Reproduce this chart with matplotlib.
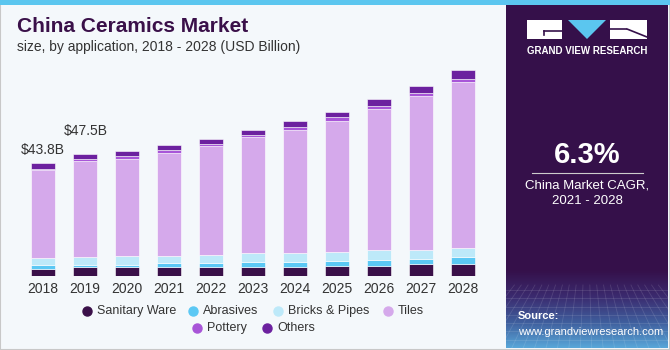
import numpy as np
import matplotlib.pyplot as plt
from matplotlib.patches import Rectangle, Polygon
from matplotlib.lines import Line2D
from matplotlib.colors import LinearSegmentedColormap

plt.rcParams['font.family'] = ['Liberation Sans', 'DejaVu Sans']

years = ['2018', '2019', '2020', '2021', '2022', '2023', '2024', '2025', '2026', '2027', '2028']
sanitary = [2.8, 3.4, 3.4, 3.4, 3.6, 3.6, 3.6, 4.0, 4.0, 4.5, 4.5]
abrasives = [1.6, 1.0, 1.0, 1.5, 1.3, 1.8, 1.8, 1.8, 2.2, 2.3, 2.7]
bricks = [2.5, 2.9, 3.4, 2.9, 3.1, 3.4, 3.4, 3.4, 3.8, 3.5, 3.6]
tiles = [34.4, 37.6, 37.6, 40.2, 42.5, 45.1, 48.0, 51.2, 55.1, 59.7, 64.6]
pottery = [0.5, 0.6, 1.3, 1.0, 0.8, 1.0, 1.0, 1.5, 1.0, 1.3, 1.3]
others = [2.0, 2.0, 2.1, 1.8, 2.1, 2.1, 2.4, 2.1, 2.8, 2.6, 3.4]
series_names = ['Sanitary Ware', 'Abrasives', 'Bricks & Pipes', 'Tiles', 'Pottery', 'Others']
colors = ['#3a1049', '#5bc8f4', '#bde9f9', '#d5a9eb', '#a855d8', '#6c219f']
labels = {0: '$43.8B', 1: '$47.5B'}

W, H = 670, 350
bg = '#f4f8fb'
fig = plt.figure(figsize=(6.7, 3.5), dpi=100, facecolor=bg)

def fx(px):
    return px / W

def fy(py):
    return 1 - py / H

# border + top strip
fig.patches.append(Rectangle((0, 0), 1, 1, transform=fig.transFigure, fill=False,
                             edgecolor='#c8c8c8', lw=1.5))
fig.patches.append(Rectangle((0, fy(5)), 1, 5 / H, transform=fig.transFigure,
                             color='#5bc6ef', lw=0))

# titles
fig.text(fx(17), fy(27), 'China Ceramics Market', fontsize=15, fontweight='bold',
         color='#3a1049', va='center')
fig.text(fx(17), fy(47), 'size, by application, 2018 - 2028 (USD Billion)', fontsize=10,
         color='#333333', va='center')

# bar chart
left, right = 21.7, 483.7
base, top = 276, 276 - 90 * 2.57
ax = fig.add_axes([fx(left), fy(base), (right - left) / W, (base - top) / H])
ax.set_facecolor('none')
x = np.arange(len(years))
data = [sanitary, abrasives, bricks, tiles, pottery, others]
bottom = np.zeros(len(years))
for vals, c in zip(data, colors):
    ax.bar(x, vals, 0.57, bottom=bottom, color=c, edgecolor='#ffffff', linewidth=0.4)
    bottom += np.array(vals)
lab_off = {0: (0, 2.5), 1: (0.03, 6.3)}
for i, t in labels.items():
    dx, dy = lab_off[i]
    ax.text(x[i] + dx, bottom[i] + dy, t, ha='center', va='bottom', fontsize=10, color='#333333')
ax.set_xlim(-0.5, len(years) - 0.5)
ax.set_ylim(0, 90)
ax.set_xticks(x)
ax.set_xticklabels(years, fontsize=10, color='#333333')
ax.tick_params(length=0, pad=4)
ax.set_yticks([])
for s in ax.spines.values():
    s.set_visible(False)

# legend drawn by hand
leg_rows = [(311, [87, 193, 278, 388]), (328, [197, 267])]
k = 0
for yy, xs in leg_rows:
    for xx in xs:
        fig.add_artist(Line2D([fx(xx)], [fy(yy)], marker='o', markersize=6.5, color=colors[k],
                              lw=0, transform=fig.transFigure))
        fig.text(fx(xx + 10), fy(yy), series_names[k], fontsize=9, color='#333333', va='center')
        k += 1

# right panel
pan = fig.add_axes([fx(506), fy(348), 162 / W, 343 / H])
pan.axis('off')
pan.add_patch(Rectangle((0, 0), 162, 343, color='#35104a', lw=0))
cmap = LinearSegmentedColormap.from_list('g', ['#35104a', '#3b2a6e', '#3f5d9c', '#58a6d8'])
grad = np.linspace(0, 1, 100).reshape(-1, 1)
pan.imshow(grad, extent=(0, 162, 343, 265), cmap=cmap, aspect='auto', zorder=1)
# faint mesh at the bottom
for yy in np.linspace(285, 343, 8):
    pan.plot([0, 162], [yy, yy], color='white', alpha=0.12, lw=0.6, zorder=2)
for xx in np.linspace(-40, 200, 22):
    pan.plot([81 + (xx - 81) * 0.6, xx], [280, 343], color='white', alpha=0.12, lw=0.6, zorder=2)
pan.set_xlim(0, 162)
pan.set_ylim(343, 0)

# logo
pan.add_patch(Rectangle((21, 15), 35, 19, color='white', lw=0, zorder=3))
pan.add_patch(Polygon([(62, 15), (100, 15), (81, 34)], closed=True, color='#5bc6ef', lw=0, zorder=3))
pan.add_patch(Rectangle((104, 15), 37, 19, color='white', lw=0, zorder=3))
pan.plot([38, 56], [26, 26], color='#35104a', lw=1.2, zorder=4)
pan.plot([38, 38], [26, 30], color='#35104a', lw=1.2, zorder=4)
pan.plot([104, 120], [24, 24], color='#35104a', lw=1.2, zorder=4)
pan.plot([121, 141], [24, 32], color='#35104a', lw=1.2, zorder=4)
pan.text(81, 46, 'GRAND VIEW RESEARCH', color='white', fontsize=7, fontweight='bold',
         ha='center', va='center', zorder=4)

pan.text(81, 150, '6.3%', color='white', fontsize=21, fontweight='bold', ha='center',
         va='center', zorder=4)
pan.plot([26, 137], [168, 168], color='#cccccc', lw=0.8, zorder=4)
pan.text(81, 181, 'China Market CAGR,', color='white', fontsize=9.5, ha='center', va='center')
pan.text(81, 196, '2021 - 2028', color='white', fontsize=9.5, ha='center', va='center')
pan.text(12, 311, 'Source:', color='white', fontsize=8, fontweight='bold', va='center', zorder=4)
pan.text(12, 327, 'www.grandviewresearch.com', color='white', fontsize=8, va='center', zorder=4)

fig.savefig('out.png', dpi=100, facecolor=bg)
